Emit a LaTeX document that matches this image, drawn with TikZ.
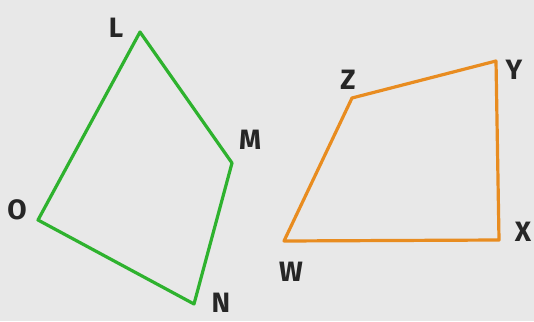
\documentclass[tikz,border=0pt]{standalone}
\usepackage{fontspec}
\setsansfont{Fira Sans}
\usepackage{xcolor}
\usepackage{tikz}
\definecolor{paper}{RGB}{232,232,232}
\definecolor{quadgreen}{RGB}{46,178,46}
\definecolor{quadorange}{RGB}{232,140,32}
\tikzset{
  vlabel/.style={font=\sffamily\bfseries\fontsize{28}{30}\selectfont, inner sep=0pt, text=black!85},
  side/.style={line width=3.2pt, line join=round},
}

\begin{document}
\begin{tikzpicture}[x=1pt, y=-1pt]
  \fill[paper] (0,0) rectangle (534,321);
  \useasboundingbox (0,0) rectangle (534,321);

  % green quadrilateral LMNO
  \coordinate (L) at (140,32);
  \coordinate (M) at (232,163);
  \coordinate (N) at (194,304);
  \coordinate (O) at (38,220);
  \draw[side, quadgreen] (L) -- (M) -- (N) -- (O) -- cycle;

  % orange quadrilateral WXYZ
  \coordinate (Z) at (352,98);
  \coordinate (Y) at (496,61);
  \coordinate (X) at (499,240);
  \coordinate (W) at (284,241);
  \draw[side, quadorange] (Z) -- (Y) -- (X) -- (W) -- cycle;

  \node[vlabel] (lL) at (116,28) {L};
  \node[vlabel] (lM) at (250,140) {M};
  \node[vlabel] (lN) at (221,303) {N};
  \node[vlabel] (lO) at (17,210) {O};
  \node[vlabel] (lZ) at (348,80) {Z};
  \node[vlabel] (lY) at (514,70) {Y};
  \node[vlabel] (lX) at (523,232) {X};
  \node[vlabel] (lW) at (291,272) {W};
\end{tikzpicture}
\end{document}
